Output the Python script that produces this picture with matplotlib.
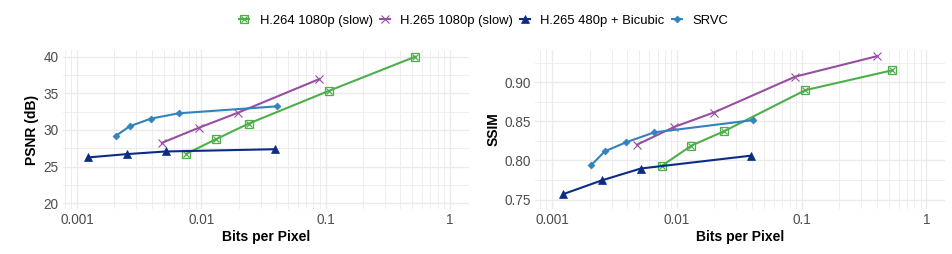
import numpy as np
import matplotlib
matplotlib.use("Agg")
import matplotlib.pyplot as plt
from matplotlib.ticker import LogLocator, FixedLocator, MultipleLocator, NullFormatter
from matplotlib.lines import Line2D
from matplotlib.legend_handler import HandlerTuple

plt.rcParams['font.family'] = ['Liberation Sans', 'DejaVu Sans']

# bits per pixel for each codec
bpp_h264 = [0.0076, 0.0131, 0.0241, 0.107, 0.53]
bpp_h265 = [0.00482, 0.0095, 0.0198, 0.089, 0.404]
bpp_bicubic = [0.00123, 0.00251, 0.00515, 0.0393]
bpp_srvc = [0.00205, 0.00265, 0.00394, 0.00658, 0.0405]

# PSNR (dB); the last H.265 1080p point lies above the plotted range
psnr_h264 = [26.74, 28.72, 30.86, 35.34, 40.0]
psnr_h265 = [28.23, 30.27, 32.35, 36.93, np.nan]
psnr_bicubic = [26.24, 26.69, 27.05, 27.36]
psnr_srvc = [29.18, 30.49, 31.54, 32.26, 33.21]

# SSIM
ssim_h264 = [0.7932, 0.819, 0.8375, 0.8897, 0.915]
ssim_h265 = [0.8203, 0.8427, 0.8612, 0.907, 0.9332]
ssim_bicubic = [0.757, 0.7746, 0.7897, 0.8061]
ssim_srvc = [0.7936, 0.8117, 0.8233, 0.8358, 0.8514]

labels = ['H.264 1080p (slow)', 'H.265 1080p (slow)', 'H.265 480p + Bicubic', 'SRVC']
colors = ['#4daf4a', '#984ea3', '#0c2c84', '#3182bd']

bpp_all = [bpp_h264, bpp_h265, bpp_bicubic, bpp_srvc]
psnr_all = [psnr_h264, psnr_h265, psnr_bicubic, psnr_srvc]
ssim_all = [ssim_h264, ssim_h265, ssim_bicubic, ssim_srvc]

W, H = 952, 254
fig = plt.figure(figsize=(W / 100, H / 100), dpi=100)
ax1 = fig.add_axes([63 / W, 1 - 209 / H, 406 / W, 159 / H])
ax2 = fig.add_axes([535 / W, 1 - 209 / H, 410 / W, 159 / H])


def marker_kw(i):
    # ggplot-like shapes: square-cross, x, filled triangle, small diamond
    if i == 0:
        return [dict(marker='s', ms=5.5, mfc='none', mew=0.9),
                dict(marker='x', ms=4.5, mew=0.9)]
    if i == 1:
        return [dict(marker='x', ms=6, mew=0.8)]
    if i == 2:
        return [dict(marker='^', ms=6.2, mew=0.5)]
    return [dict(marker='D', ms=3.5, mew=0.5)]


def draw(ax, ys):
    for i in range(4):
        ax.plot(bpp_all[i], ys[i], color=colors[i], lw=1.5)
        for kw in marker_kw(i):
            ax.plot(bpp_all[i], ys[i], color=colors[i], ls='none', **kw)


def style(ax, ylabel):
    ax.set_xscale('log')
    ax.xaxis.set_major_locator(FixedLocator([0.001, 0.01, 0.1, 1]))
    ax.xaxis.set_major_formatter(plt.FuncFormatter(lambda v, p: '%g' % v))
    ax.xaxis.set_minor_locator(LogLocator(base=10, subs=np.arange(2, 10)))
    ax.xaxis.set_minor_formatter(NullFormatter())
    for s in ax.spines.values():
        s.set_visible(False)
    ax.grid(True, which='major', color='#ebebeb', lw=1.0)
    ax.grid(True, which='minor', color='#ebebeb', lw=0.6)
    ax.set_axisbelow(True)
    ax.tick_params(which='both', length=0, labelsize=9.8, labelcolor='#4d4d4d', pad=3)
    ax.set_xlabel('Bits per Pixel', fontsize=10, fontweight='bold', labelpad=2)
    ax.set_ylabel(ylabel, fontsize=10, fontweight='bold', labelpad=3)


draw(ax1, psnr_all)
draw(ax2, ssim_all)

style(ax1, 'PSNR (dB)')
ax1.set_xlim(0.00077, 1.43)
ax1.set_ylim(19.2, 40.9)
ax1.yaxis.set_major_locator(MultipleLocator(5))
ax1.yaxis.set_minor_locator(MultipleLocator(2.5))

style(ax2, 'SSIM')
ax2.set_xlim(0.00073, 1.41)
ax2.set_ylim(0.738, 0.941)
ax2.yaxis.set_major_locator(FixedLocator([0.75, 0.80, 0.85, 0.90]))
ax2.yaxis.set_major_formatter(plt.FuncFormatter(lambda v, p: '%.2f' % v))
ax2.yaxis.set_minor_locator(MultipleLocator(0.025))

handles = []
for i in range(4):
    parts = [Line2D([], [], color=colors[i], lw=1.5, **marker_kw(i)[0])]
    for kw in marker_kw(i)[1:]:
        parts.append(Line2D([], [], color=colors[i], ls='none', **kw))
    handles.append(tuple(parts))
fig.legend(handles, labels, loc='center', bbox_to_anchor=(0.508, 1 - 21 / H), ncol=4,
           frameon=False, fontsize=9.4, handlelength=0.75, handletextpad=0.8,
           columnspacing=0.55, handler_map={tuple: HandlerTuple(ndivide=1)})

fig.savefig('out.png', dpi=100)
